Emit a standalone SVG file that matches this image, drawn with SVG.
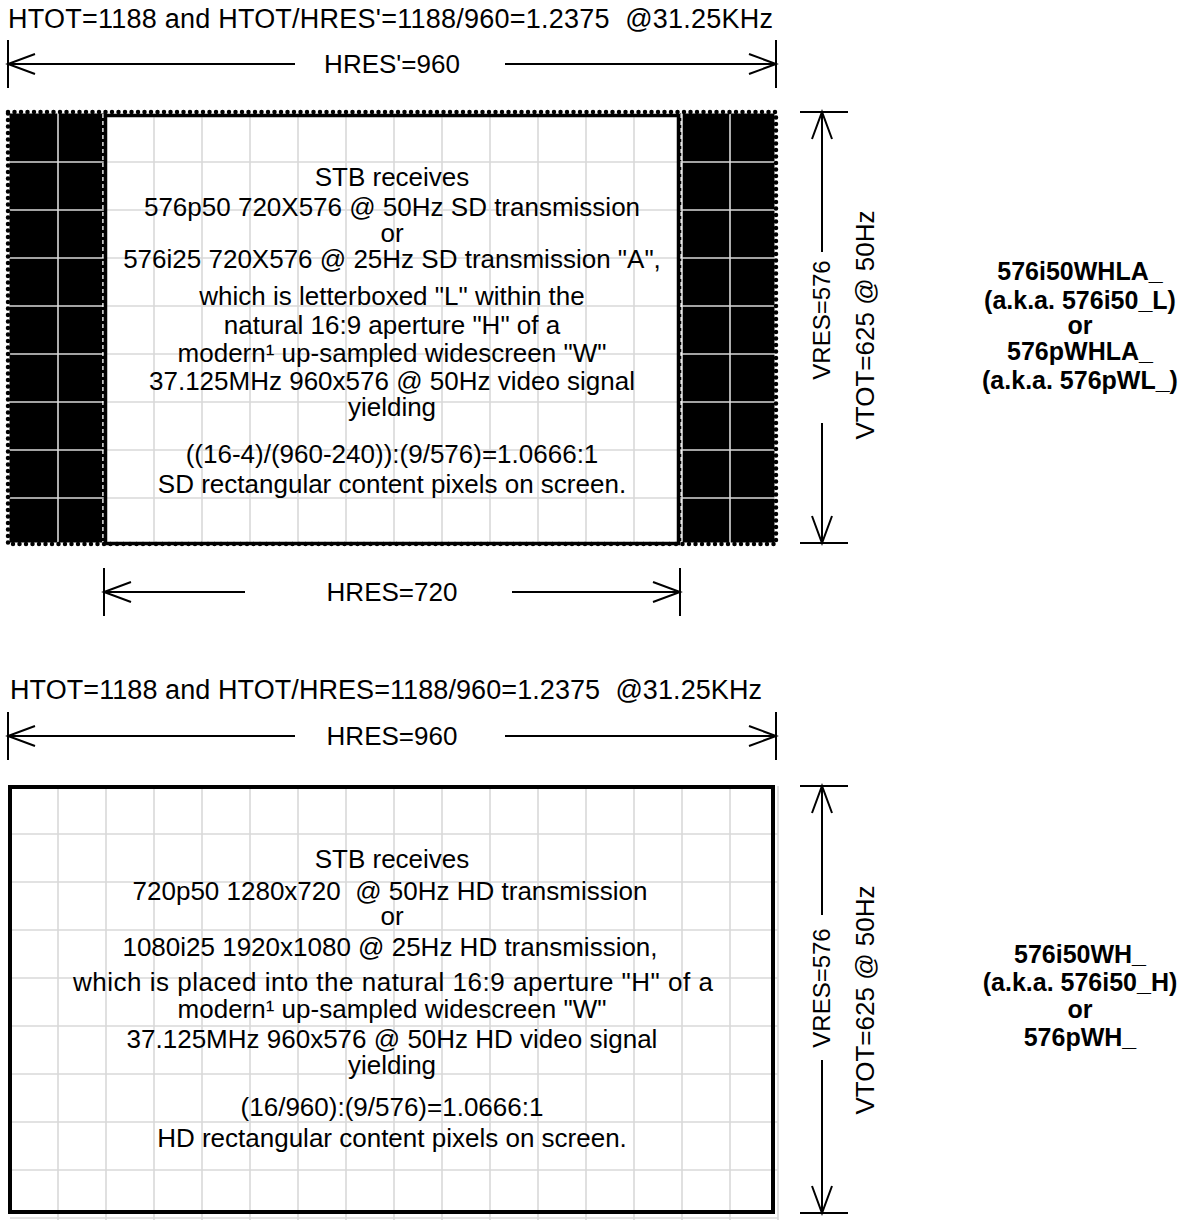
<svg xmlns="http://www.w3.org/2000/svg" width="1181" height="1220" viewBox="0 0 1181 1220">
<style>
text{font-family:"Liberation Sans",Arial,Helvetica,sans-serif;font-size:26px;fill:#000}
.c{text-anchor:middle}
.b{font-weight:bold;font-size:25px}
.t{font-size:27px}
.v{font-size:24px}
.grid{stroke:#d9d9d9;stroke-width:1.6;fill:none}
.dim{stroke:#000;stroke-width:2;fill:none}
.frame{fill:none;stroke:#000;stroke-width:4}
</style>
<defs>
<marker id="ah" markerUnits="userSpaceOnUse" markerWidth="32" markerHeight="26" viewBox="0 0 32 26" refX="29" refY="13" orient="auto">
<path d="M2,3 L29,13 L2,23" fill="none" stroke="#000" stroke-width="2"/>
</marker>
</defs>
<rect width="1181" height="1220" fill="#fff"/>

<g id="top-title"><text x="8" y="28" class="t" textLength="765" lengthAdjust="spacing">HTOT=1188 and HTOT/HRES'=1188/960=1.2375&#160; @31.25KHz</text></g>

<g id="top-screen">
<rect x="8" y="112" width="96" height="432" fill="#000"/>
<rect x="680" y="112" width="96" height="432" fill="#000"/>
<rect x="104" y="114" width="576" height="430" fill="#fff"/>
<path class="grid" d="M58,112V544M106,112V544M154,112V544M202,112V544M250,112V544M298,112V544M346,112V544M394,112V544M442,112V544M490,112V544M538,112V544M586,112V544M634,112V544M682,112V544M730,112V544M8,162H776M8,210H776M8,258H776M8,306H776M8,354H776M8,402H776M8,450H776M8,498H776"/>
<path d="M103,114V544M681,114V544" stroke="#fff" stroke-width="1.5" stroke-dasharray="4 3"/>
<rect x="8" y="112" width="768" height="432" fill="none" stroke="#fff" stroke-width="3"/>
<rect x="8" y="112" width="768" height="432" fill="none" stroke="#000" stroke-width="4.5" stroke-linecap="round" stroke-dasharray="0 6.5"/>
<rect x="105.5" y="115.5" width="573" height="428" fill="none" stroke="#000" stroke-width="3.5"/>
<text class="c" x="392" y="186">STB receives</text>
<text class="c" x="392" y="216">576p50 720X576 @ 50Hz SD transmission</text>
<text class="c" x="392" y="242">or</text>
<text class="c" x="392" y="268">576i25 720X576 @ 25Hz SD transmission "A",</text>
<text class="c" x="392" y="305">which is letterboxed "L" within the</text>
<text class="c" x="392" y="334">natural 16:9 aperture "H" of a</text>
<text class="c" x="392" y="362">modern¹ up-sampled widescreen "W"</text>
<text class="c" x="392" y="390">37.125MHz 960x576 @ 50Hz video signal</text>
<text class="c" x="392" y="416">yielding</text>
<text class="c" x="392" y="463">((16-4)/(960-240)):(9/576)=1.0666:1</text>
<text class="c" x="392" y="493">SD rectangular content pixels on screen.</text>
</g>

<g id="top-label">
<text class="c b" x="1080" y="280">576i50WHLA_</text>
<text class="c b" x="1080" y="309">(a.k.a. 576i50_L)</text>
<text class="c b" x="1080" y="334">or</text>
<text class="c b" x="1080" y="360">576pWHLA_</text>
<text class="c b" x="1080" y="389">(a.k.a. 576pWL_)</text>
</g>

<g id="bottom-title"><text x="10" y="699" class="t" textLength="752" lengthAdjust="spacing">HTOT=1188 and HTOT/HRES=1188/960=1.2375&#160; @31.25KHz</text></g>

<g id="bottom-screen">
<path class="grid" d="M58,786V1220M106,786V1220M154,786V1220M202,786V1220M250,786V1220M298,786V1220M346,786V1220M394,786V1220M442,786V1220M490,786V1220M538,786V1220M586,786V1220M634,786V1220M682,786V1220M730,786V1220M778,786V1220M10,834H778M10,882H778M10,930H778M10,978H778M10,1026H778M10,1074H778M10,1122H778M10,1170H778M10,1218H778"/>
<rect class="frame" x="10" y="787" width="763" height="425"/>
<text class="c" x="392" y="868">STB receives</text>
<text class="c" x="390" y="900">720p50 1280x720&#160; @ 50Hz HD transmission</text>
<text class="c" x="392" y="925">or</text>
<text class="c" x="390" y="956">1080i25 1920x1080 @ 25Hz HD transmission,</text>
<text class="c" x="393" y="991" textLength="640" lengthAdjust="spacing">which is placed into the natural 16:9 aperture "H" of a</text>
<text class="c" x="392" y="1018">modern¹ up-sampled widescreen "W"</text>
<text class="c" x="392" y="1048">37.125MHz 960x576 @ 50Hz HD video signal</text>
<text class="c" x="392" y="1074">yielding</text>
<text class="c" x="392" y="1116">(16/960):(9/576)=1.0666:1</text>
<text class="c" x="392" y="1147">HD rectangular content pixels on screen.</text>
</g>

<g id="bottom-label">
<text class="c b" x="1080" y="963">576i50WH_</text>
<text class="c b" x="1080" y="991">(a.k.a. 576i50_H)</text>
<text class="c b" x="1080" y="1018">or</text>
<text class="c b" x="1080" y="1046">576pWH_</text>
</g>

<g id="connectors">
<path class="dim" d="M8,40V88M776,40V88"/>
<path class="dim" d="M295,64H8" marker-end="url(#ah)"/>
<path class="dim" d="M505,64H776" marker-end="url(#ah)"/>
<text class="c" x="392" y="73">HRES'=960</text>

<path class="dim" d="M104,568V616M680,568V616"/>
<path class="dim" d="M245,592H104" marker-end="url(#ah)"/>
<path class="dim" d="M512,592H680" marker-end="url(#ah)"/>
<text class="c" x="392" y="601">HRES=720</text>

<path class="dim" d="M800,112H848M800,543H848"/>
<path class="dim" d="M822,252V112" marker-end="url(#ah)"/>
<path class="dim" d="M822,423V543" marker-end="url(#ah)"/>
<text class="c v" transform="translate(830,320) rotate(-90)">VRES=576</text>
<text class="c" transform="translate(874,325) rotate(-90)">VTOT=625 @ 50Hz</text>

<path class="dim" d="M8,712V760M776,712V760"/>
<path class="dim" d="M295,736H8" marker-end="url(#ah)"/>
<path class="dim" d="M505,736H776" marker-end="url(#ah)"/>
<text class="c" x="392" y="745">HRES=960</text>

<path class="dim" d="M800,786H848M800,1213H848"/>
<path class="dim" d="M822,915V786" marker-end="url(#ah)"/>
<path class="dim" d="M822,1060V1213" marker-end="url(#ah)"/>
<text class="c v" transform="translate(830,988) rotate(-90)">VRES=576</text>
<text class="c" transform="translate(874,1000) rotate(-90)">VTOT=625 @ 50Hz</text>
</g>
</svg>
